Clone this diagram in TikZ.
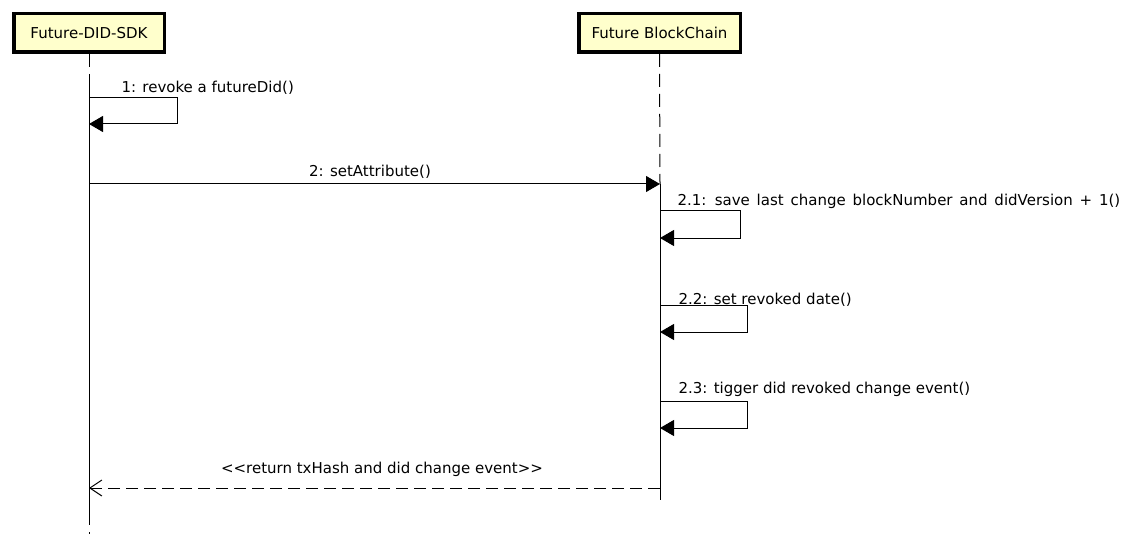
\documentclass[tikz,border=0pt]{standalone}
\usepackage{fontspec}
\setmainfont{DejaVu Sans}
\usetikzlibrary{arrows.meta}
\definecolor{boxfill}{HTML}{FFFFCC}

\begin{document}
\begin{tikzpicture}[x=1pt, y=-1pt, line width=1pt,
    every node/.style={font=\fontsize{15}{17}\selectfont, inner sep=0pt},
    actor/.style={draw, line width=3.5pt, fill=boxfill, minimum height=38.5pt},
    life/.style={dash pattern=on 13pt off 7pt},
    msg/.style={-{Triangle[length=14pt,width=16pt]}},
    reply/.style={dash pattern=on 12pt off 6pt, -{Straight Barb[length=12pt,width=16pt]}},
    lbl/.style={anchor=base west}]
    \useasboundingbox (0,0) rectangle (1132,548);

    % participants
    \node[actor, minimum width=150.5pt] (sdk) at (89,33) {Future-DID-SDK};
    \node[actor, minimum width=161.5pt] (chain) at (659.5,33) {Future BlockChain};

    % lifelines
    \coordinate (sdkTop) at (89,76);
    \coordinate (sdkBot) at (89,525);
    \coordinate (sdkEnd) at (89,534);
    \coordinate (chainTop) at (660,184);
    \coordinate (chainBot) at (660,500);
    \draw[life] (sdk.south) -- (sdkTop);
    \draw (sdkTop) -- (sdkBot);
    \draw[dash pattern=on 0pt off 7pt on 2pt off 10pt] (sdkBot) -- (sdkEnd);
    \draw[life] (chain.south) -- (chainTop);
    \draw (chainTop) -- (chainBot);

    % 1: self call
    \coordinate (m1) at (89,98);
    \coordinate (m1r) at (89,124);
    \draw[msg] (m1) -- ++(88,0) |- (m1r);
    \node[lbl] (t1) at (121,93) {1: revoke a futureDid()};

    % 2: call
    \coordinate (m2) at (89,184);
    \draw[msg] (m2) -- (chainTop);
    \node[anchor=base] (t2) at (370,177) {2: setAttribute()};

    % 2.x: self calls
    \coordinate (m21) at (660,211);
    \coordinate (m21r) at (660,238);
    \draw[msg] (m21) -- ++(80,0) |- (m21r);
    \node[lbl] (t21) at (677,205) {\spaceskip=6.8pt 2.1: save last change blockNumber and didVersion + 1()};

    \coordinate (m22) at (660,305);
    \coordinate (m22r) at (660,332);
    \draw[msg] (m22) -- ++(87,0) |- (m22r);
    \node[lbl] (t22) at (678,304) {2.2: set revoked date()};

    \coordinate (m23) at (660,401);
    \coordinate (m23r) at (660,428);
    \draw[msg] (m23) -- ++(87,0) |- (m23r);
    \node[lbl] (t23) at (678,393) {2.3: tigger did revoked change event()};

    % return
    \coordinate (r1) at (660,488);
    \coordinate (r1e) at (89,488);
    \draw[reply] (r1) -- (r1e);
    \node[anchor=base] (tr) at (382,473) {<\kern0pt<return txHash and did change event>\kern0pt>};
\end{tikzpicture}
\end{document}
